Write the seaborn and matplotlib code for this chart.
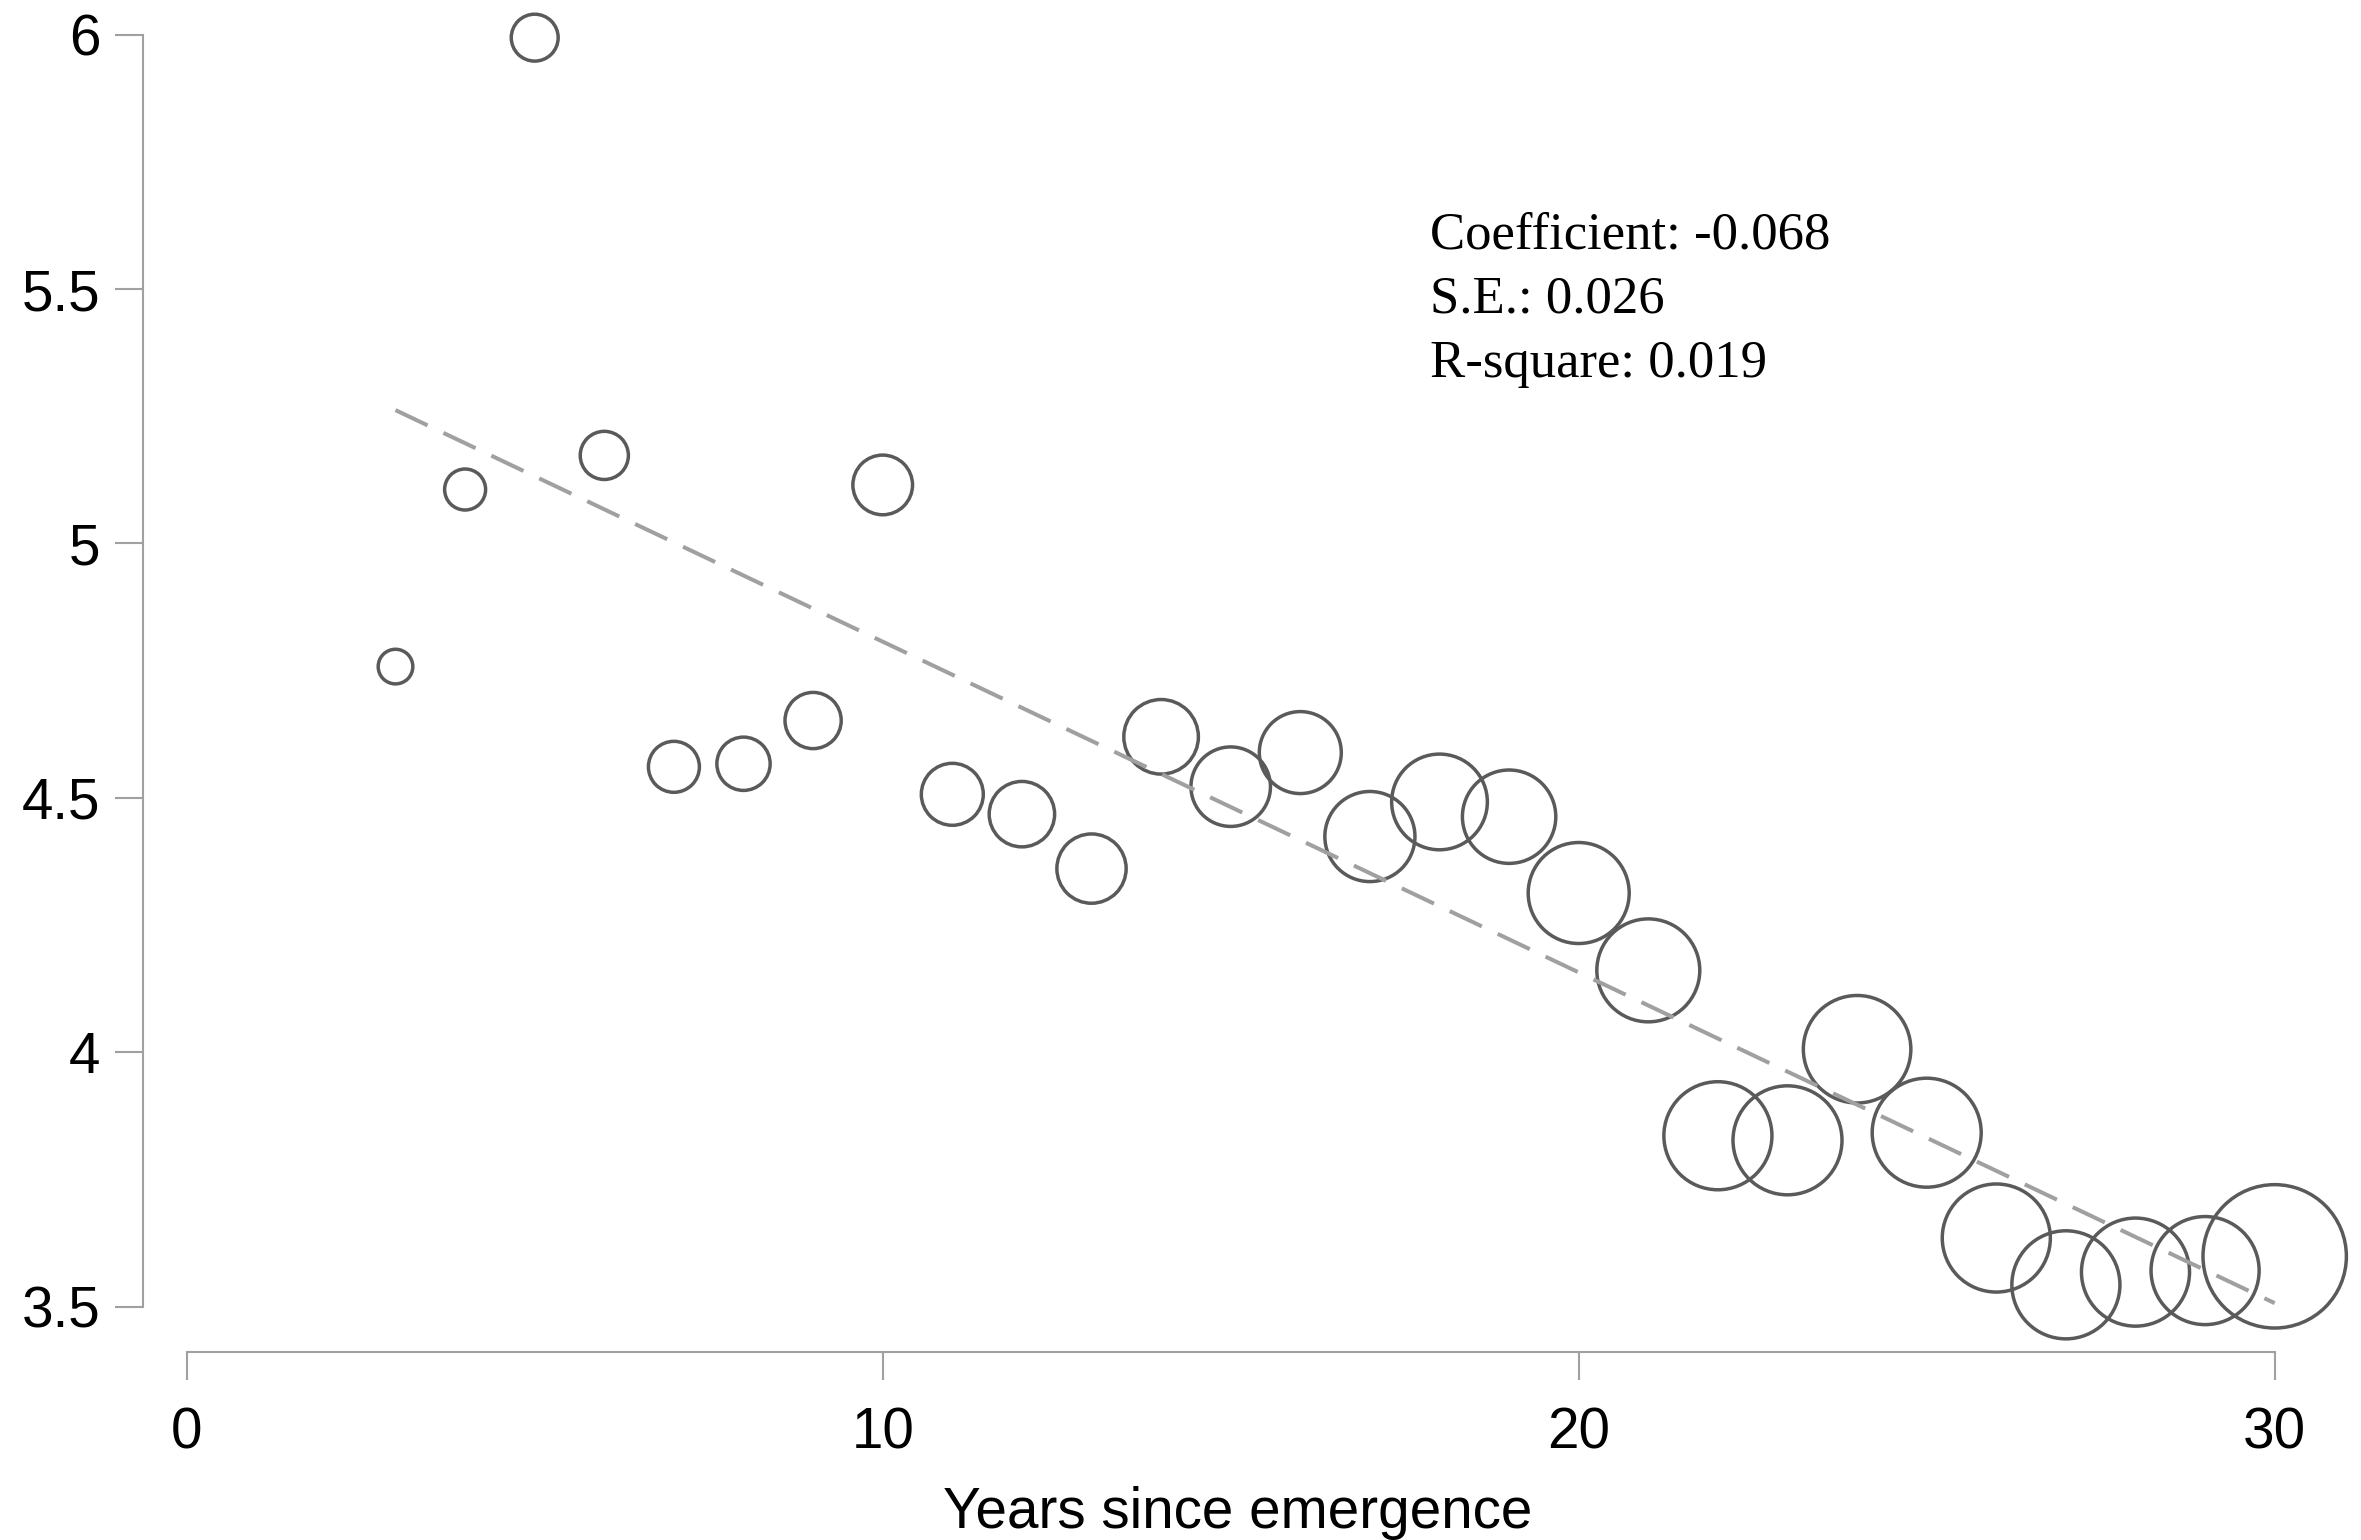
import numpy as np
import pandas as pd
import matplotlib
matplotlib.use("Agg")
import matplotlib.pyplot as plt
import seaborn as sns

# values
years = list(range(3, 31))
mean_value = [4.758, 5.106, 5.994, 5.173, 4.561, 4.567, 4.652, 5.115, 4.507, 4.468,
              4.361, 4.620, 4.522, 4.589, 4.424, 4.492, 4.463, 4.313, 4.161, 3.836,
              3.827, 4.006, 3.842, 3.635, 3.543, 3.568, 3.571, 3.599]
# bubble weight (area is proportional to it)
n_obs = [30, 42, 55, 58, 65, 71, 79, 89, 96, 107, 120, 139, 158, 168, 203, 229,
         218, 255, 265, 292, 297, 289, 297, 292, 292, 292, 292, 514]

# fitted line shown in the chart
fit_range = [3, 30]
fit_intercept = 5.457
fit_slope = -0.0650

stats_lines = ["Coefficient: -0.068", "S.E.: 0.026", "R-square: 0.019"]

x_ticks = [0, 10, 20, 30]
y_ticks = [3.5, 4, 4.5, 5, 5.5, 6]
y_tick_labels = ["3.5", "4", "4.5", "5", "5.5", "6"]

df = pd.DataFrame({"years": years, "value": mean_value, "n": n_obs})
fit_x = np.array(fit_range, dtype=float)
fit_df = pd.DataFrame({"years": fit_x, "fit": fit_intercept + fit_slope * fit_x})

sns.set_style("white")
plt.rcParams["font.family"] = ["Liberation Sans", "DejaVu Sans"]
plt.rcParams["lines.scale_dashes"] = False

fig = plt.figure(figsize=(11.805, 7.70), dpi=200)
ax = fig.add_axes([0.06057, 0.12208, 0.93943, 0.87792])

edge = "#5a5a5a"
axis_grey = "#a0a0a0"
size_max = 5.184 * max(n_obs)

sns.scatterplot(data=df, x="years", y="value", size="n",
                sizes=(0, size_max), size_norm=(0, max(n_obs)),
                color=edge, facecolors="none", edgecolor=edge,
                linewidth=1.25, legend=False, clip_on=False, ax=ax)

sns.lineplot(data=fit_df, x="years", y="fit", color=axis_grey, ax=ax)
fit_line = ax.lines[-1]
fit_line.set_linewidth(1.45)
fit_line.set_dashes([12.8, 6.3])

ax.set_xlim(-0.628, 31.24)
ax.set_ylim(3.411, 6.068)

for side in ["top", "right"]:
    ax.spines[side].set_visible(False)
for side in ["left", "bottom"]:
    ax.spines[side].set_color(axis_grey)
    ax.spines[side].set_linewidth(0.75)
ax.spines["left"].set_bounds(3.5, 6)
ax.spines["bottom"].set_bounds(0, 30)

ax.set_xticks(x_ticks)
ax.set_xticklabels([str(t) for t in x_ticks])
ax.set_yticks(y_ticks)
ax.set_yticklabels(y_tick_labels)
ax.tick_params(axis="both", bottom=True, left=True, length=10, width=0.75,
               color=axis_grey, labelsize=20.4, labelcolor="black")
ax.tick_params(axis="x", pad=9.5)
ax.tick_params(axis="y", pad=5.3)

ax.set_ylabel("")
ax.set_xlabel("Years since emergence", fontsize=20.4, color="black")
ax.xaxis.set_label_coords(15.1, 3.0655, transform=ax.transData)
ax.xaxis.label.set_va("baseline")

text_y = [5.580, 5.454, 5.328]
for line, ty in zip(stats_lines, text_y):
    ax.text(17.86, ty, line, family=["Liberation Serif", "DejaVu Serif"],
            fontsize=19, va="baseline", ha="left", color="black")

fig.savefig("out.png", dpi=200)
plt.close(fig)
